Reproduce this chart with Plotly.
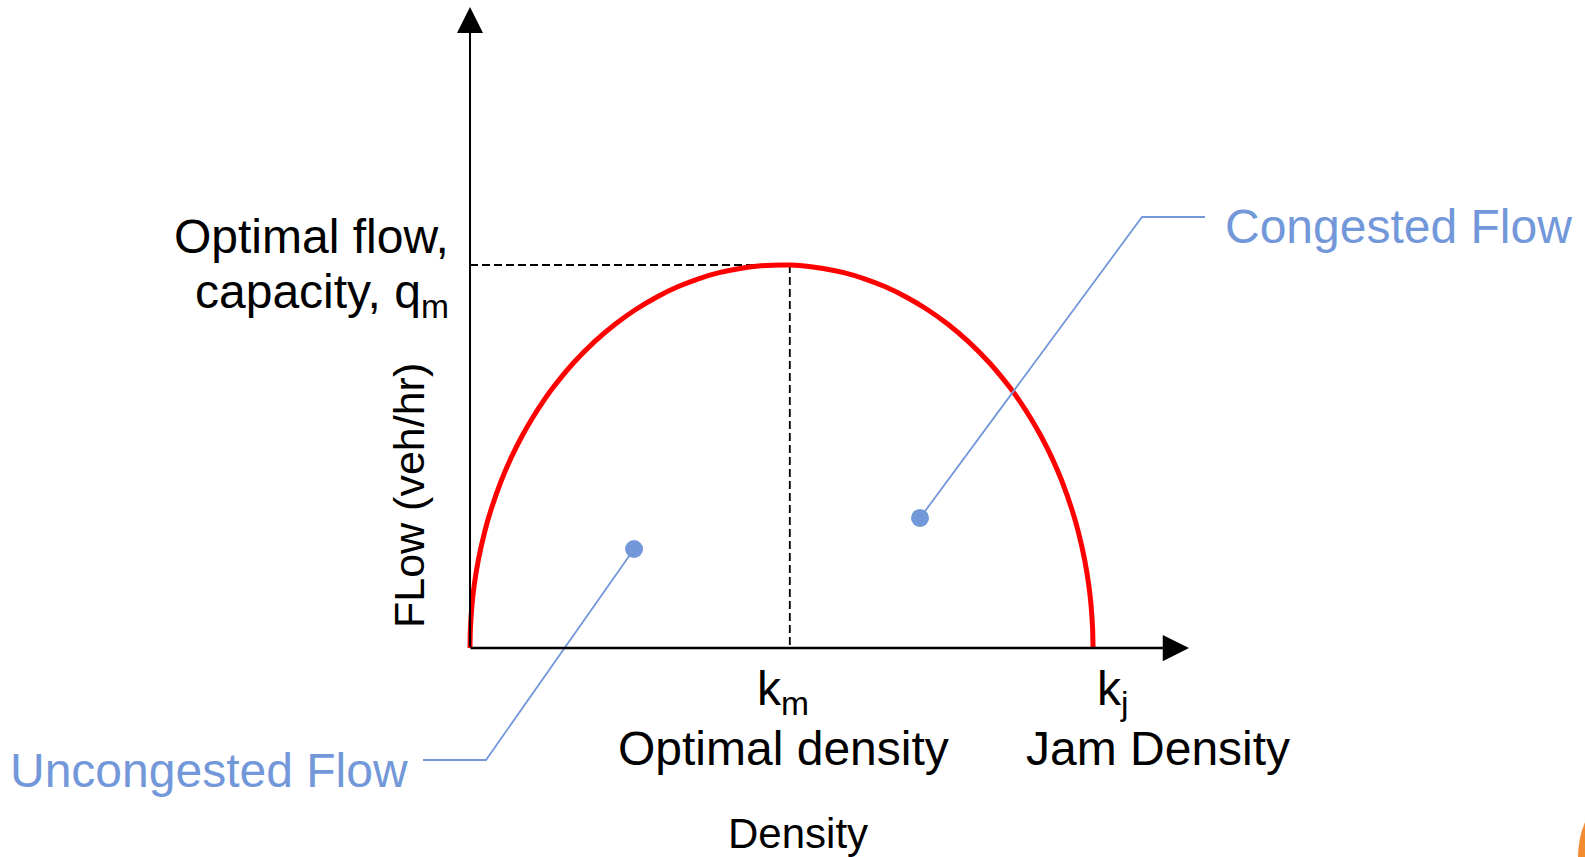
import plotly.graph_objects as go

# ---------------- data ----------------
# density (veh/km) and flow (veh/hr) along the flow-density curve
density = [0, 0.1, 0.5, 1, 2, 3.5, 5, 7.5, 10, 12.5, 15, 17.5, 20, 25, 30, 35, 40, 45, 50, 55,
           60, 65, 70, 77, 80, 85, 90, 95, 100, 105, 110, 115, 120, 125, 130, 132.5, 135,
           137.5, 140, 142.5, 145, 146.5, 148, 149, 149.5, 149.9, 150]
flow = [0, 103, 231, 326, 459, 604, 718, 872, 998, 1106, 1200, 1284, 1360, 1491, 1600, 1692,
        1769, 1833, 1886, 1928, 1960, 1982, 1996, 2000, 1996, 1982, 1960, 1928, 1886, 1833,
        1769, 1692, 1600, 1491, 1360, 1284, 1200, 1106, 998, 872, 718, 604, 459, 326, 231,
        103, 0]

k_m = 77        # optimal density
k_j = 150       # jam density
q_m = 2000      # capacity

# regions marked by callout dots: (density, flow)
region_names = ["Uncongested Flow", "Congested Flow"]
region_density = [39.5, 108.35]
region_flow = [517, 679]

# ---------------- layout helpers ----------------
W, H = 1585, 857
X0PX, Y0PX = 470, 648          # pixel position of origin
XS, YS = 623 / k_j, 383 / q_m   # pixels per unit

def dx(px):
    return (px - X0PX) / XS

def dy(py):
    return (Y0PX - py) / YS

def P(px, py):
    return px / W, 1 - py / H

FONT = "Liberation Sans, Arial, sans-serif"
BLUE = "#7398DA"

fig = go.Figure()

# dashed guide lines
fig.add_trace(go.Scatter(x=[0, k_m], y=[q_m, q_m], mode="lines",
                         line=dict(color="black", width=1.8, dash="8px,4px"), hoverinfo="skip"))
fig.add_trace(go.Scatter(x=[k_m, k_m], y=[q_m, 0], mode="lines",
                         line=dict(color="black", width=1.8, dash="8px,4px"), hoverinfo="skip"))

# red flow-density curve
fig.add_trace(go.Scatter(x=density, y=flow, mode="lines",
                         line=dict(color="#FF0000", width=5, shape="spline", smoothing=1.0),
                         hoverinfo="skip"))

# callout leaders
unc_px = [(486, 760), (423, 760)]
con_px = [(1142, 217), (1205, 217)]
fig.add_trace(go.Scatter(x=[region_density[0]] + [dx(p[0]) for p in unc_px],
                         y=[region_flow[0]] + [dy(p[1]) for p in unc_px],
                         mode="lines", line=dict(color=BLUE, width=1.8), hoverinfo="skip"))
fig.add_trace(go.Scatter(x=[region_density[1]] + [dx(p[0]) for p in con_px],
                         y=[region_flow[1]] + [dy(p[1]) for p in con_px],
                         mode="lines", line=dict(color=BLUE, width=1.8), hoverinfo="skip"))
fig.add_trace(go.Scatter(x=region_density, y=region_flow, mode="markers",
                         marker=dict(color=BLUE, size=18), hoverinfo="skip"))

anns = []
# axes with arrowheads
tx, ty = P(470, 7)
anns.append(dict(x=tx, y=ty, xref="paper", yref="paper", ax=0, ay=641, text="",
                 showarrow=True, arrowhead=2, arrowsize=2.6, arrowwidth=2, arrowcolor="black"))
tx, ty = P(1189, 648)
anns.append(dict(x=tx, y=ty, xref="paper", yref="paper", ax=-720, ay=0, text="",
                 showarrow=True, arrowhead=2, arrowsize=2.1, arrowwidth=2.5, arrowcolor="black"))

def txt(s, px, py, size, color="black", xanchor="center", angle=0):
    x, y = P(px, py)
    anns.append(dict(x=x, y=y, xref="paper", yref="paper", text=s, showarrow=False,
                     xanchor=xanchor, yanchor="middle", textangle=angle,
                     font=dict(family=FONT, size=size, color=color)))

txt("Optimal flow,", 451, 237, 48, xanchor="right")
txt("capacity, q<sub>m</sub>", 451, 295, 48, xanchor="right")
txt("k<sub>m</sub>", 783, 692, 48)
txt("Optimal density", 783, 748, 48)
txt("k<sub>j</sub>", 1112, 692, 48)
txt("Jam Density", 1158, 748, 48)
txt("Density", 798, 833, 42)
txt("FLow (veh/hr)", 409, 496, 43, angle=-90)
txt(region_names[1], 1223, 226, 48, color=BLUE, xanchor="left")
txt(region_names[0], 8, 770, 48, color=BLUE, xanchor="left")

# orange corner decoration
cx0, cy0 = P(1578, 767)
cx1, cy1 = P(1758, 947)
shapes = [dict(type="circle", xref="paper", yref="paper", x0=cx0, y0=cy1, x1=cx1, y1=cy0,
               fillcolor="#F28A30", line=dict(width=0))]

fig.update_layout(
    width=W, height=H, margin=dict(l=0, r=0, t=0, b=0),
    paper_bgcolor="white", plot_bgcolor="white", showlegend=False,
    xaxis=dict(range=[dx(0), dx(W)], visible=False, fixedrange=True),
    yaxis=dict(range=[dy(H), dy(0)], visible=False, fixedrange=True),
    annotations=anns, shapes=shapes,
)

fig.write_html("out.html", config={"displayModeBar": False},
               post_script="document.body.style.margin='0';document.body.style.overflow='hidden';")
